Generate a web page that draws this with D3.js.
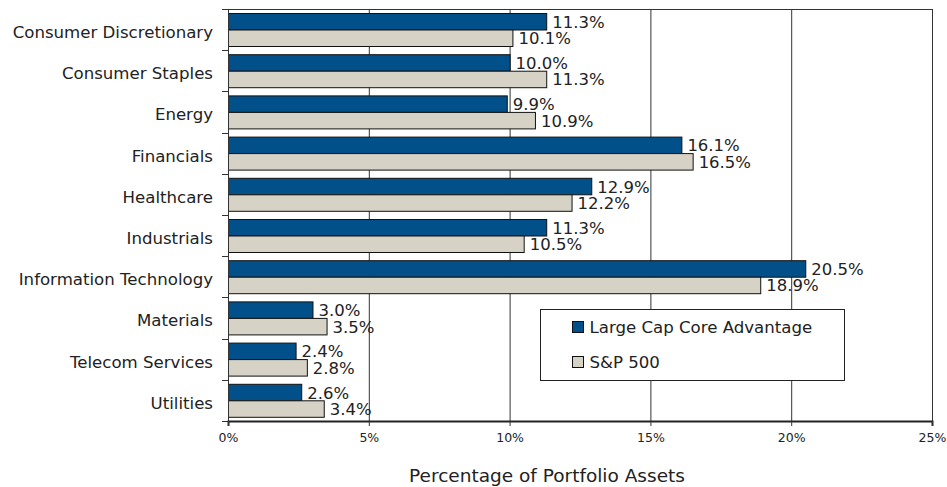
<!DOCTYPE html>
<html>
<head>
<meta charset="utf-8">
<script src="https://cdn.jsdelivr.net/npm/d3@7"></script>
<style>
    body { margin: 0; background: #fff; }
    svg { font-family: "DejaVu Sans", Verdana, sans-serif; }
</style>
</head>
<body>
<svg id="chart" width="947" height="487"></svg>
<script>
const categories = [
    "Consumer Discretionary", "Consumer Staples", "Energy", "Financials", "Healthcare",
    "Industrials", "Information Technology", "Materials", "Telecom Services", "Utilities"
];
const seriesNames = ["Large Cap Core Advantage", "S&P 500"];
const fundValues = [11.3, 10.0, 9.9, 16.1, 12.9, 11.3, 20.5, 3.0, 2.4, 2.6];
const indexValues = [10.1, 11.3, 10.9, 16.5, 12.2, 10.5, 18.9, 3.5, 2.8, 3.4];
const xTicks = [0, 5, 10, 15, 20, 25];
const colors = ["#02508a", "#d6d3c6"];

const margin = {left: 228, right: 15, top: 9, bottom: 66};
const width = 947, height = 487;
const innerWidth = width - margin.left - margin.right;
const innerHeight = height - margin.top - margin.bottom;

const svg = d3.select('#chart');
const g = svg.append('g')
    .attr('transform', `translate(${margin.left}, ${margin.top})`);

const xScale = d3.scaleLinear()
    .domain([0, 25])
    .range([0, innerWidth]);

const yScale = d3.scaleBand()
    .domain(categories)
    .range([0, innerHeight]);

const barH = 16.5;
const barOffset = 4.5;

// gridlines (last one is the right border)
g.selectAll('.grid')
    .data(xTicks.slice(1))
    .join('line')
        .classed('grid', true)
        .attr('x1', d => xScale(d) + 0.5)
        .attr('x2', d => xScale(d) + 0.5)
        .attr('y1', 0)
        .attr('y2', innerHeight)
        .style('stroke', '#333')
        .style('stroke-width', 1);

g.append('line')
    .attr('x1', -6).attr('x2', innerWidth)
    .attr('y1', 0.5).attr('y2', 0.5)
    .style('stroke', '#333');

// category separator ticks on the left
g.selectAll('.catTick')
    .data(d3.range(categories.length + 1))
    .join('line')
        .classed('catTick', true)
        .attr('x1', -6).attr('x2', 0)
        .attr('y1', d => Math.round(d * yScale.step()) + 0.5)
        .attr('y2', d => Math.round(d * yScale.step()) + 0.5)
        .style('stroke', '#333');

const rows = categories.map((c, i) => ({category: c, values: [fundValues[i], indexValues[i]]}));

const groups = g.selectAll('.row')
    .data(rows)
    .join('g')
        .classed('row', true)
        .attr('transform', d => `translate(0, ${yScale(d.category) + barOffset})`);

groups.selectAll('rect')
    .data(d => d.values.map((v, j) => ({v, j})))
    .join('rect')
        .attr('x', 0.5)
        .attr('y', d => d.j * barH)
        .attr('width', d => xScale(d.v))
        .attr('height', barH)
        .style('fill', d => colors[d.j])
        .style('stroke', '#111')
        .style('stroke-width', 1);

groups.selectAll('.valLabel')
    .data(d => d.values.map((v, j) => ({v, j})))
    .join('text')
        .classed('valLabel', true)
        .attr('x', d => xScale(d.v) + 6)
        .attr('y', d => d.j * barH + barH / 2)
        .attr('dy', '0.36em')
        .style('font-size', '16.5px')
        .style('fill', '#222')
        .text(d => d.v.toFixed(1) + '%');

// category labels
g.selectAll('.catLabel')
    .data(categories)
    .join('text')
        .classed('catLabel', true)
        .attr('x', -15)
        .attr('y', d => yScale(d) + barOffset + barH + 2)
        .attr('dy', '0.36em')
        .style('text-anchor', 'end')
        .style('font-size', '16.6px')
        .style('fill', '#222')
        .text(d => d);

// left axis line
g.append('line')
    .attr('x1', 0.5).attr('x2', 0.5)
    .attr('y1', 0).attr('y2', innerHeight)
    .style('stroke', '#333');

const xAxisGroup = g.append('g')
    .attr('transform', `translate(0, ${innerHeight})`)
    .call(d3.axisBottom(xScale)
        .tickValues(xTicks)
        .tickSize(5)
        .tickFormat(d => d + '%'));

xAxisGroup.select('.domain')
    .style('stroke', '#222')
    .style('stroke-width', 2);
xAxisGroup.selectAll('.tick line').style('stroke', '#333');
xAxisGroup.selectAll('.tick text')
    .attr('y', 12)
    .style('font-size', '12.5px')
    .style('font-family', '"DejaVu Sans", Verdana, sans-serif')
    .style('fill', '#222');

svg.append('text')
    .attr('x', 547)
    .attr('y', 482)
    .style('text-anchor', 'middle')
    .style('font-size', '18.5px')
    .style('fill', '#222')
    .text('Percentage of Portfolio Assets');

// legend
const legend = svg.append('g')
    .attr('transform', 'translate(540.5, 309.5)');

legend.append('rect')
    .attr('width', 304)
    .attr('height', 71)
    .style('fill', '#fff')
    .style('stroke', '#222');

const legendItems = legend.selectAll('.legendItem')
    .data(seriesNames)
    .join('g')
        .classed('legendItem', true)
        .attr('transform', (d, i) => `translate(32, ${12 + i * 35})`);

legendItems.append('rect')
    .attr('width', 11)
    .attr('height', 11)
    .style('fill', (d, i) => colors[i])
    .style('stroke', '#111');

legendItems.append('text')
    .attr('x', 17)
    .attr('y', 5.5)
    .attr('dy', '0.36em')
    .style('font-size', '16.6px')
    .style('fill', '#222')
    .text(d => d);
</script>
</body>
</html>
